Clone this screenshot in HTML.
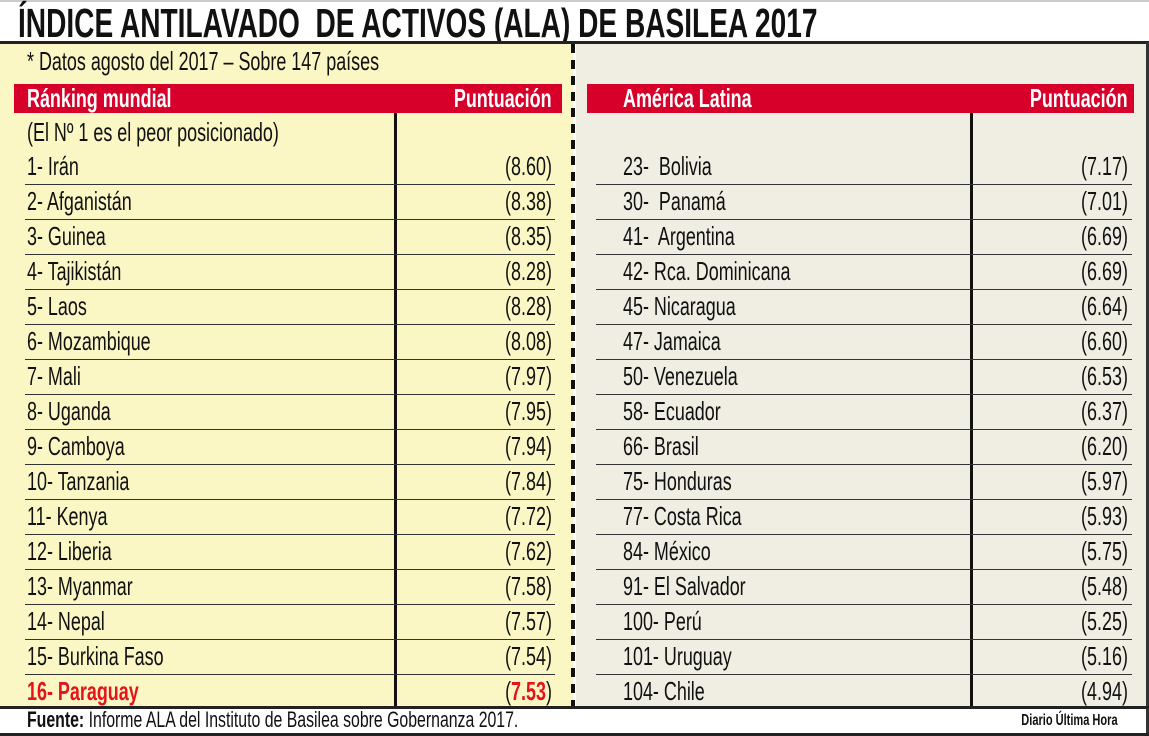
<!DOCTYPE html>
<html><head><meta charset="utf-8"><style>
*{margin:0;padding:0;box-sizing:border-box}
body{width:1149px;height:736px;position:relative;background:#fff;overflow:hidden;font-family:"Liberation Sans",sans-serif}
.a{position:absolute}
.t{position:absolute;white-space:nowrap;font-size:26px;line-height:28px;color:#111;transform:scaleX(.69);transform-origin:left center}
.r{transform-origin:right center;text-align:right}
.b{font-weight:bold}
</style></head><body>
<div class="a" style="left:0;top:0;width:1149px;height:2px;background:#ccc"></div>
<div class="t b" style="left:18px;top:2px;font-size:41px;line-height:42px;transform:scaleX(.685)">ÍNDICE ANTILAVADO&nbsp; DE ACTIVOS (ALA) DE BASILEA 2017</div>
<div class="a" style="left:0;top:41px;width:1149px;height:3px;background:#222"></div>
<div class="a" style="left:0;top:44px;width:573px;height:663px;background:#fbf7c4"></div>
<div class="a" style="left:576px;top:44px;width:570px;height:663px;background:#f0eee2"></div>
<div class="a" style="left:1146px;top:42px;width:3px;height:694px;background:#333"></div>
<div class="a" style="left:571px;top:44px;width:4px;height:663px;background:repeating-linear-gradient(to bottom,#111 0 9px,transparent 9px 16px)"></div>
<div class="t" style="left:27px;top:47px">* Datos agosto del 2017 – Sobre 147 países</div>
<div class="a" style="left:14px;top:84px;width:548px;height:29px;background:#d6002a"></div>
<div class="a" style="left:587px;top:84px;width:547px;height:29px;background:#d6002a"></div>
<div class="t b" style="left:27px;top:84px;color:#fff">Ránking mundial</div>
<div class="t b r" style="right:597px;top:84px;color:#fff">Puntuación</div>
<div class="t b" style="left:623px;top:84px;color:#fff">América Latina</div>
<div class="t b r" style="right:21px;top:84px;color:#fff">Puntuación</div>
<div class="t" style="left:27px;top:118px">(El Nº 1 es el peor posicionado)</div>
<div class="a" style="left:394px;top:113px;width:3px;height:594px;background:#111"></div>
<div class="a" style="left:970px;top:113px;width:3px;height:594px;background:#111"></div>
<div id="rows"></div>
<div class="a" style="left:0;top:706px;width:1149px;height:3px;background:#222"></div>
<div class="a" style="left:0;top:733px;width:1149px;height:3px;background:#222"></div>
<div class="t" style="left:27px;top:708px;font-size:22px;line-height:24px;transform:scaleX(.72)"><b>Fuente:</b> Informe ALA del Instituto de Basilea sobre Gobernanza 2017.</div>
<div class="t b r" style="right:31px;top:711px;font-size:16px;line-height:20px">Diario Última Hora</div>
<script>
var L=[["1- Irán","8.60"],["2- Afganistán","8.38"],["3- Guinea","8.35"],["4- Tajikistán","8.28"],["5- Laos","8.28"],["6- Mozambique","8.08"],["7- Mali","7.97"],["8- Uganda","7.95"],["9- Camboya","7.94"],["10- Tanzania","7.84"],["11- Kenya","7.72"],["12- Liberia","7.62"],["13- Myanmar","7.58"],["14- Nepal","7.57"],["15- Burkina Faso","7.54"],["16- Paraguay","7.53"]];
var R=[["23-&nbsp; Bolivia","7.17"],["30-&nbsp; Panamá","7.01"],["41-&nbsp; Argentina","6.69"],["42- Rca. Dominicana","6.69"],["45- Nicaragua","6.64"],["47- Jamaica","6.60"],["50- Venezuela","6.53"],["58- Ecuador","6.37"],["66- Brasil","6.20"],["75- Honduras","5.97"],["77- Costa Rica","5.93"],["84- México","5.75"],["91- El Salvador","5.48"],["100- Perú","5.25"],["101- Uruguay","5.16"],["104- Chile","4.94"]];
var h="";
for(var i=0;i<16;i++){var c=167+35*i,tp=c-15;
if(i==15){h+='<div class="t b" style="left:27px;top:'+tp+'px;color:#e3141b">'+L[i][0]+'</div><div class="t r" style="right:597px;top:'+tp+'px">(<b style="color:#e3141b">'+L[i][1]+'</b>)</div>';}
else h+='<div class="t" style="left:27px;top:'+tp+'px">'+L[i][0]+'</div><div class="t r" style="right:597px;top:'+tp+'px">('+L[i][1]+')</div>';
h+='<div class="t" style="left:623px;top:'+tp+'px">'+R[i][0]+'</div><div class="t r" style="right:21px;top:'+tp+'px">('+R[i][1]+')</div>';
if(i<15){h+='<div class="a" style="left:25px;top:'+(c+17)+'px;width:530px;height:1px;background:#333"></div><div class="a" style="left:596px;top:'+(c+17)+'px;width:536px;height:1px;background:#333"></div>';}
}
document.getElementById("rows").innerHTML=h;
</script>
</body></html>
